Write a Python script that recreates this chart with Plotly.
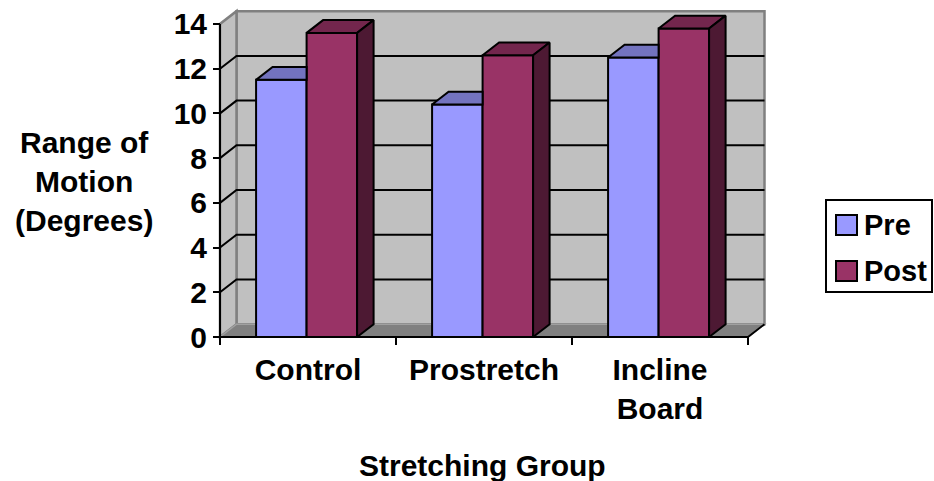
import plotly.graph_objects as go

# ---- data ----
groups = ["Control", "Prostretch", "Incline<br>Board"]
pre = [11.5, 10.4, 12.5]
post = [13.6, 12.6, 13.8]
series_names = ["Pre", "Post"]
y_ticks = [0, 2, 4, 6, 8, 10, 12, 14]
y_max = 14

# ---- styling ----
PRE_FRONT, PRE_TOP = "#9999FF", "#7373BF"
POST_FRONT, POST_TOP, POST_SIDE = "#993366", "#73264D", "#4D1933"
WALL, FLOOR, EDGE = "#C0C0C0", "#808080", "#808080"
FONT = dict(family="Liberation Sans, Arial, sans-serif", size=30, color="black", weight="bold")
LEGEND_FONT = dict(FONT, size=29)

# page / plot-area geometry (pixels)
W, H = 934, 481
L, R, T, B = 200, 154, 5, 131
PW, PH = W - L - R, H - T - B
AXIS_X_PX, AXIS_Y_PX = 220, 337      # front corner of the 3-D box
PX_PER_X, PX_PER_Y = 176.0, 22.36

x_lo = -0.5 - (AXIS_X_PX - L) / PX_PER_X
x_hi = x_lo + PW / PX_PER_X
y_lo = -(H - B - AXIS_Y_PX) / PX_PER_Y
y_hi = y_lo + PH / PX_PER_Y

# depth of the box in data units
DX = 16.5 / PX_PER_X
DY = 12.8 / PX_PER_Y
BAR_W = 0.287
PRE_OFF = -0.295
POST_OFF = PRE_OFF + BAR_W


def px_x(px):
    return (px - L) / PW


def px_y(py):
    return (H - B - py) / PH


def poly(pts):
    return "M" + " L".join(f"{x},{y}" for x, y in pts) + " Z"


n = len(groups)
xs = list(range(n))
x_left, x_right = -0.5, n - 0.5

shapes = []
# back wall
shapes.append(dict(type="path", layer="below", xref="x", yref="y",
                   path=poly([(x_left + DX, DY), (x_right + DX, DY),
                              (x_right + DX, y_max + DY), (x_left + DX, y_max + DY)]),
                   fillcolor=WALL, line=dict(color=EDGE, width=2.5)))
# left side wall
shapes.append(dict(type="path", layer="below", xref="x", yref="y",
                   path=poly([(x_left, 0), (x_left, y_max),
                              (x_left + DX, y_max + DY), (x_left + DX, DY)]),
                   fillcolor=WALL, line=dict(color=EDGE, width=2.5)))
# floor
shapes.append(dict(type="path", layer="below", xref="x", yref="y",
                   path=poly([(x_left, 0), (x_right, 0), (x_right + DX, DY), (x_left + DX, DY)]),
                   fillcolor=FLOOR, line=dict(color="#A0A0A0", width=1.5)))
shapes.append(dict(type="line", layer="below", xref="x", yref="y",
                   x0=x_right, y0=0, x1=x_right + DX, y1=DY,
                   line=dict(color="black", width=2)))
# gridlines running along the side wall and the back wall
for v in y_ticks:
    if v in (0, y_max):
        continue
    shapes.append(dict(type="path", layer="below", xref="x", yref="y",
                       path=f"M{x_left},{v} L{x_left + DX},{v + DY} L{x_right + DX},{v + DY}",
                       line=dict(color="black", width=2)))
# front axis lines and category boundary ticks
shapes.append(dict(type="line", layer="above", xref="x", yref="y",
                   x0=x_left, y0=0, x1=x_left, y1=y_max, line=dict(color="black", width=2)))
shapes.append(dict(type="line", layer="above", xref="x", yref="y",
                   x0=x_left, y0=0, x1=x_right, y1=0, line=dict(color="black", width=2)))
for k in range(n + 1):
    xb = x_left + k
    shapes.append(dict(type="line", layer="above", xref="x", yref="y",
                       x0=xb, y0=0, x1=xb, y1=-8 / PX_PER_Y, line=dict(color="black", width=2)))

fig = go.Figure()

# front faces of the columns
fig.add_trace(go.Bar(x=xs, y=pre, width=BAR_W, offset=PRE_OFF, name=series_names[0],
                     marker=dict(color=PRE_FRONT, line=dict(color="black", width=2)),
                     hoverinfo="skip", showlegend=False))
fig.add_trace(go.Bar(x=xs, y=post, width=BAR_W, offset=POST_OFF, name=series_names[1],
                     marker=dict(color=POST_FRONT, line=dict(color="black", width=2)),
                     hoverinfo="skip", showlegend=False))


def faces(values, off, kind, clip_right=False):
    px, py = [], []
    for xc, v in zip(xs, values):
        x0, x1 = xc + off, xc + off + BAR_W
        if kind == "top":
            if clip_right:
                pts = [(x0, v), (x1, v), (x1, v + DY), (x0 + DX, v + DY)]
            else:
                pts = [(x0, v), (x1, v), (x1 + DX, v + DY), (x0 + DX, v + DY)]
        else:
            pts = [(x1, 0), (x1, v), (x1 + DX, v + DY), (x1 + DX, DY)]
        pts.append(pts[0])
        px += [p[0] for p in pts] + [None]
        py += [p[1] for p in pts] + [None]
    return px, py


# Pre tops are partly hidden behind the taller Post columns
for values, off, kind, color, clip in [
    (pre, PRE_OFF, "top", PRE_TOP, True),
    (post, POST_OFF, "top", POST_TOP, False),
    (post, POST_OFF, "side", POST_SIDE, False),
]:
    fx, fy = faces(values, off, kind, clip)
    fig.add_trace(go.Scatter(x=fx, y=fy, mode="lines", fill="toself", fillcolor=color,
                             line=dict(color="black", width=2), hoverinfo="skip",
                             showlegend=False))

# legend box drawn by hand
shapes.append(dict(type="rect", xref="paper", yref="paper",
                   x0=px_x(826), x1=px_x(932), y0=px_y(292), y1=px_y(200),
                   fillcolor="white", line=dict(color="black", width=2)))
annotations = []
for i, (name, color) in enumerate(zip(series_names, [PRE_FRONT, POST_FRONT])):
    cy = 225 + 46 * i
    shapes.append(dict(type="rect", xref="paper", yref="paper",
                       x0=px_x(836), x1=px_x(857), y0=px_y(cy + 10), y1=px_y(cy - 10),
                       fillcolor=color, line=dict(color="black", width=2)))
    annotations.append(dict(text=name, xref="paper", yref="paper", x=px_x(862), y=px_y(cy),
                            xanchor="left", yanchor="middle", showarrow=False, font=LEGEND_FONT))

annotations.append(dict(text="Range of<br>Motion<br>(Degrees)", xref="paper", yref="paper",
                        x=px_x(84), y=px_y(182), xanchor="center", yanchor="middle",
                        showarrow=False, font=FONT))
annotations.append(dict(text="Stretching Group", xref="paper", yref="paper",
                        x=px_x(482), y=px_y(465), xanchor="center", yanchor="middle",
                        showarrow=False, font=FONT))

fig.update_layout(
    width=W, height=H, margin=dict(l=L, r=R, t=T, b=B),
    paper_bgcolor="white", plot_bgcolor="white",
    font=FONT, barmode="overlay", showlegend=False,
    shapes=shapes, annotations=annotations,
    xaxis=dict(range=[x_lo, x_hi], anchor="free", position=px_y(AXIS_Y_PX),
               tickvals=xs, ticktext=groups, ticks="", ticklabelstandoff=12,
               showgrid=False, zeroline=False, showline=False, tickfont=FONT),
    yaxis=dict(range=[y_lo, y_hi], anchor="free", position=px_x(AXIS_X_PX),
               tickvals=y_ticks, ticks="outside", ticklen=7, tickwidth=2, tickcolor="black",
               showgrid=False, zeroline=False, showline=False, tickfont=FONT),
)

fig.write_html("out.html")
